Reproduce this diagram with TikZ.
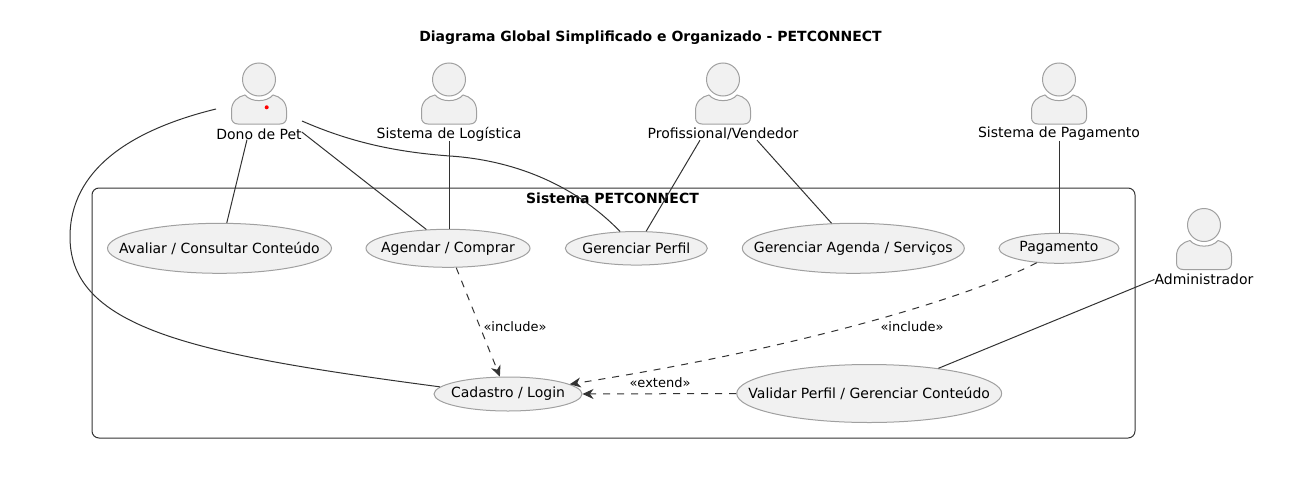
\documentclass[tikz,border=0pt]{standalone}
\usepackage{fontspec}
\setmainfont{DejaVu Sans}
\usepackage{xcolor}
\usetikzlibrary{
	arrows.meta,
	shapes.geometric
}
\definecolor{ActorFill}{RGB}{241,241,241}
\definecolor{ActorLine}{RGB}{160,160,160}
\definecolor{EdgeLine}{RGB}{50,50,50}
\newcommand{\uctext}[1]{\makebox[0pt][c]{\raisebox{-1pt}{#1}}}
\tikzset{
	person/.pic={
		\draw[ActorLine, fill=ActorFill, line width=1pt] (0,0) circle (16.5);
		\draw[ActorLine, fill=ActorFill, line width=1pt] (-21,44.5)
			.. controls (-25,44.5) and (-27.5,42) .. (-27.5,38) -- (-27.5,31)
			.. controls (-27.5,22) and (-21,17) .. (-14,15.5)
			.. controls (-8,23) and (8,23) .. (14,15.5)
			.. controls (21,17) and (27.5,22) .. (27.5,31) -- (27.5,38)
			.. controls (27.5,42) and (25,44.5) .. (21,44.5) -- cycle;
	},
	usecase/.style={ellipse, draw=ActorLine, fill=ActorFill, line width=1pt, inner sep=0pt, font=\fontsize{14}{16}\selectfont},
	actorname/.style={inner sep=0pt, font=\fontsize{14}{16}\selectfont},
	edgename/.style={inner sep=0pt, font=\fontsize{13}{15}\selectfont},
	assoc/.style={EdgeLine, line width=1pt},
	depend/.style={EdgeLine, line width=1pt, dash pattern=on 7pt off 7pt, -{Stealth[inset=3.5pt, length=11pt, width=10pt]}}
}
\begin{document}
\begin{tikzpicture}[x=1pt, y=-1pt]
		\useasboundingbox (0,0) rectangle (1300,479);
		\node[inner sep=0pt, font=\bfseries\fontsize{14}{16}\selectfont] (title) at (650.5,38) {Diagrama Global Simplificado e Organizado - PETCONNECT};
		% system box
		\draw[EdgeLine, line width=1pt, rounded corners=7pt] (92,188) rectangle (1135,438);
		\node[inner sep=0pt, font=\bfseries\fontsize{14}{16}\selectfont] (sistema) at (612.5,198.5) {Sistema PETCONNECT};
		% actors
		\pic at (259,79.5) {person};
		\pic at (449,79.5) {person};
		\pic at (723,79.5) {person};
		\pic at (1059,79.5) {person};
		\pic at (1204,225) {person};
		\fill[red] (266.7,107.3) circle (2);
		\node[actorname] (dono) at (259,134) {Dono de Pet};
		\node[actorname] (logistica) at (449,134) {Sistema de Logística};
		\node[actorname] (profissional) at (723,134) {Profissional/Vendedor};
		\node[actorname] (sispag) at (1059,134) {Sistema de Pagamento};
		\node[actorname] (admin) at (1204,279.5) {Administrador};
		% use cases
		\node[usecase, minimum width=224pt, minimum height=50pt] (avaliar) at (219.5,248.3) {\uctext{Avaliar / Consultar Conteúdo}};
		\node[usecase, minimum width=164pt, minimum height=38pt] (agendar) at (448,248.3) {\uctext{Agendar / Comprar}};
		\node[usecase, minimum width=142pt, minimum height=33.5pt] (perfil) at (636.3,248.3) {\uctext{Gerenciar Perfil}};
		\node[usecase, minimum width=222pt, minimum height=50pt] (agenda) at (853.3,248.3) {\uctext{Gerenciar Agenda / Serviços}};
		\node[usecase, minimum width=120pt, minimum height=30pt] (pagamento) at (1059,248.3) {\uctext{Pagamento}};
		\node[usecase, minimum width=148pt, minimum height=34pt] (cadastro) at (508,394) {\uctext{Cadastro / Login}};
		\node[usecase, minimum width=265pt, minimum height=58pt] (validar) at (869.2,393.5) {\uctext{Validar Perfil / Gerenciar Conteúdo}};
		% connectors
		\coordinate (donoleft) at (216,109);
		\coordinate (donoright) at (302,121);
		\draw[assoc] ([xshift=-12pt]dono.south) -- (avaliar.74);
		\draw[assoc] ([yshift=2pt]dono.east) -- (agendar.139);
		\draw[assoc] (donoright) .. controls (350,142) and (395,152) .. (450,156)
			.. controls (510,160) and (572,182) .. (perfil.134);
		\draw[assoc] (donoleft) .. controls (130,130) and (70,170) .. (70,237)
			.. controls (70,330) and (200,355) .. (cadastro.174);
		\draw[assoc] (logistica.south) -- (agendar.north -| logistica.south);
		\draw[assoc] ([xshift=-23pt]profissional.south) -- (perfil.60);
		\draw[assoc] ([xshift=34pt]profissional.south) -- (agenda.131);
		\draw[assoc] (sispag.south) -- (pagamento.north);
		\draw[assoc] (admin.west) -- (validar.20);
		\draw[depend] (agendar.-67) -- (cadastro.115);
		\draw[depend] (pagamento.-147) .. controls (980,292) and (820,345) .. (cadastro.9);
		\draw[depend] (validar.west) -- (cadastro.east);
		% edge labels
		\node[edgename] (inc1) at (515,327) {«include»};
		\node[edgename] (inc2) at (912,327) {«include»};
		\node[edgename] (ext1) at (660,382.5) {«extend»};
	\end{tikzpicture}
\end{document}
